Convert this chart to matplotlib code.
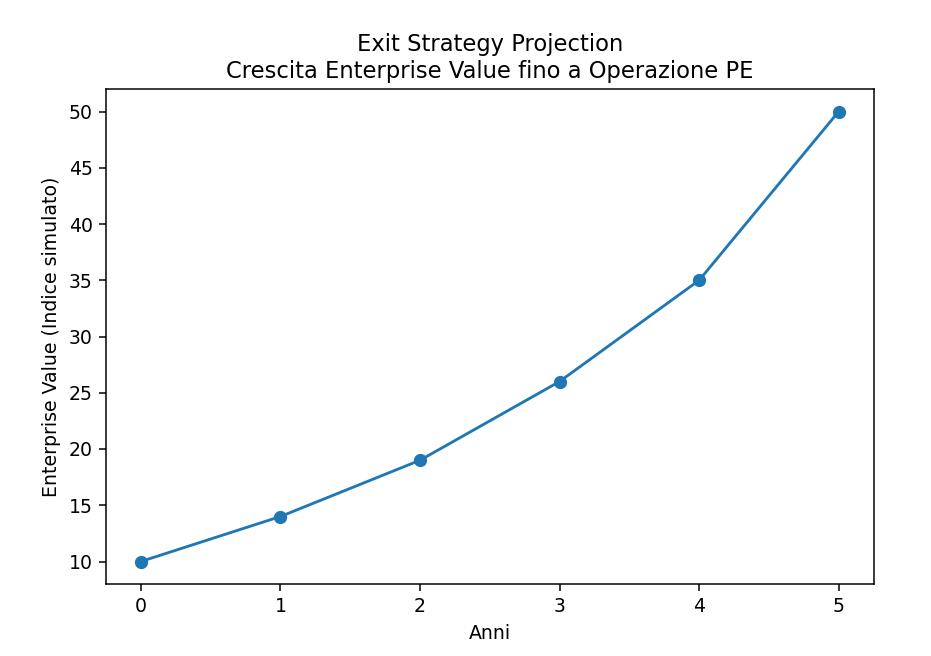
import matplotlib
matplotlib.use("Agg")
import matplotlib.pyplot as plt

anni = [0, 1, 2, 3, 4, 5]
enterprise_value = [10, 14, 19, 26, 35, 50]

DPI = 136
fig = plt.figure(figsize=(931/DPI, 656/DPI), dpi=DPI)
ax = fig.add_axes([106/931, 1-584/656, (873.6-106)/931, (584-89)/656])
ax.plot(anni, enterprise_value, marker='o', color='#1f77b4')
ax.set_title("Exit Strategy Projection\nCrescita Enterprise Value fino a Operazione PE")
ax.set_xlabel("Anni")
ax.set_ylabel("Enterprise Value (Indice simulato)")
fig.savefig("out.png", dpi=DPI)
